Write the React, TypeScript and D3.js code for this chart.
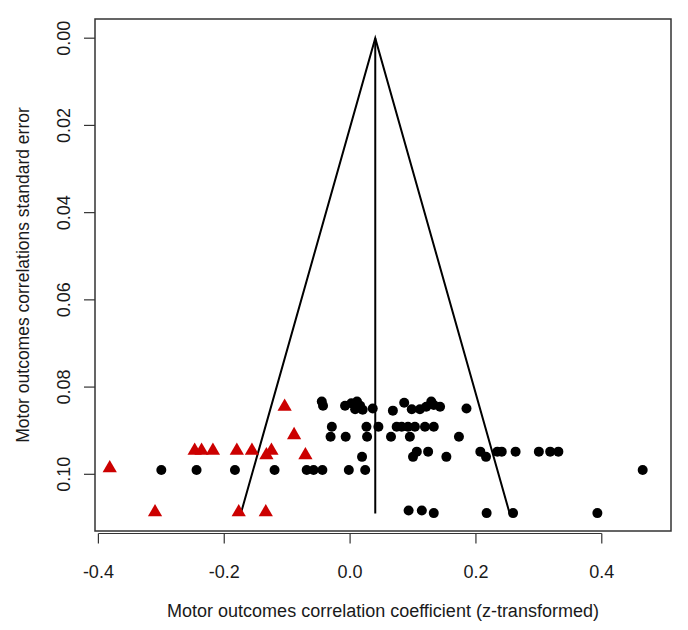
import React from "react";
import * as d3 from "d3";

// Black circles: effect (z) and standard error
const circleX = [
  -0.300, -0.244, -0.183, -0.120, -0.069, -0.058, -0.044, -0.002, 0.024, 0.465,
  0.019, 0.100, 0.153, 0.216,
  0.106, 0.124, 0.207, 0.234, 0.241, 0.263, 0.300, 0.318, 0.331,
  -0.031, -0.007, 0.027, 0.065, 0.095, 0.173,
  -0.029, 0.026, 0.045, 0.074, 0.082, 0.092, 0.103, 0.119, 0.133,
  -0.045, -0.043, -0.008, 0.002, 0.011, 0.016, 0.008, 0.020, 0.036, 0.068,
  0.086, 0.098, 0.111, 0.121, 0.129, 0.133, 0.143, 0.185,
  0.093, 0.114, 0.133, 0.217, 0.259, 0.393,
];
const circleSE = [
  0.0990, 0.0990, 0.0990, 0.0990, 0.0990, 0.0990, 0.0990, 0.0990, 0.0990, 0.0990,
  0.0960, 0.0960, 0.0960, 0.0960,
  0.0948, 0.0948, 0.0948, 0.0948, 0.0948, 0.0948, 0.0948, 0.0948, 0.0948,
  0.0914, 0.0914, 0.0914, 0.0914, 0.0914, 0.0914,
  0.0891, 0.0891, 0.0891, 0.0891, 0.0891, 0.0891, 0.0891, 0.0891, 0.0891,
  0.0833, 0.0843, 0.0843, 0.0837, 0.0833, 0.0843, 0.0851, 0.0852, 0.0849, 0.0854,
  0.0836, 0.0851, 0.0851, 0.0845, 0.0833, 0.0841, 0.0845, 0.0849,
  0.1083, 0.1083, 0.1089, 0.1089, 0.1089, 0.1089,
];
// Red triangles: imputed studies
const triX = [
  -0.382, -0.310, -0.247, -0.236, -0.218, -0.180, -0.177, -0.156, -0.133, -0.125,
  -0.134, -0.104, -0.089, -0.071,
];
const triSE = [
  0.0986, 0.1087, 0.0946, 0.0946, 0.0946, 0.0946, 0.1087, 0.0946, 0.0956, 0.0946,
  0.1087, 0.0845, 0.0910, 0.0956,
];

const xTicks = [-0.4, -0.2, 0.0, 0.2, 0.4];
const yTicks = [0.0, 0.02, 0.04, 0.06, 0.08, 0.1];
const center = 0.04;
const seMax = 0.109;

const W = 688;
const H = 630;
const box = { left: 95, right: 671, top: 19, bottom: 531 };

export default function App() {
  const x = d3.scaleLinear().domain([-0.4054, 0.51]).range([box.left, box.right]);
  const y = d3.scaleLinear().domain([-0.0044, 0.113]).range([box.top, box.bottom]);
  const tri = d3.symbol(d3.symbolTriangle, 88)() as string;
  const font = "'Liberation Sans', Arial, sans-serif";
  const line = d3.line<[number, number]>().x((d) => x(d[0])).y((d) => y(d[1]));
  const funnel: [number, number][] = [
    [center - 1.96 * seMax, seMax],
    [center, 0],
    [center + 1.96 * seMax, seMax],
  ];
  const axisY = box.bottom + 2.5;
  const textColor = "#1a1a1a";
  return (
    <svg width={W} height={H} style={{ position: "absolute", left: 0, top: 0, background: "#fff" }}>
      <rect x={0} y={0} width={W} height={H} fill="#fff" />
      {/* funnel */}
      <path d={line(funnel) as string} fill="none" stroke="#000" strokeWidth={2} />
      <path d={line([[center, 0], [center, seMax]]) as string} fill="none" stroke="#000" strokeWidth={2} />
      {/* points */}
      {circleX.map((v, i) => (
        <circle key={"c" + i} cx={x(v)} cy={y(circleSE[i])} r={5} fill="#000" />
      ))}
      {triX.map((v, i) => (
        <path key={"t" + i} d={tri} transform={`translate(${x(v)},${y(triSE[i])})`} fill="#cc0000" />
      ))}
      {/* box */}
      <rect x={box.left} y={box.top} width={box.right - box.left} height={box.bottom - box.top}
        fill="none" stroke="#333" strokeWidth={1.5} />
      {/* x axis */}
      <line x1={x(xTicks[0])} x2={x(xTicks[xTicks.length - 1])} y1={axisY} y2={axisY} stroke="#333" strokeWidth={1.2} />
      {xTicks.map((t) => (
        <g key={"xt" + t}>
          <line x1={x(t)} x2={x(t)} y1={axisY} y2={axisY + 10} stroke="#333" strokeWidth={1.2} />
          <text x={x(t)} y={578} fontFamily={font} fontSize={18} textAnchor="middle" fill={textColor}>
            {t.toFixed(1)}
          </text>
        </g>
      ))}
      {/* y axis */}
      {yTicks.map((t) => (
        <g key={"yt" + t}>
          <line x1={box.left - 11} x2={box.left} y1={y(t)} y2={y(t)} stroke="#333" strokeWidth={1.2} />
          <text transform={`translate(70,${y(t)}) rotate(-90)`} fontFamily={font} fontSize={18}
            textAnchor="middle" fill={textColor}>
            {t.toFixed(2)}
          </text>
        </g>
      ))}
      <text x={(box.left + box.right) / 2} y={617} fontFamily={font} fontSize={18} textAnchor="middle" fill={textColor}>
        Motor outcomes correlation coefficient (z-transformed)
      </text>
      <text transform={`translate(29,${(box.top + box.bottom) / 2}) rotate(-90)`} fontFamily={font}
        fontSize={17.5} textAnchor="middle" fill={textColor}>
        Motor outcomes correlations standard error
      </text>
    </svg>
  );
}
